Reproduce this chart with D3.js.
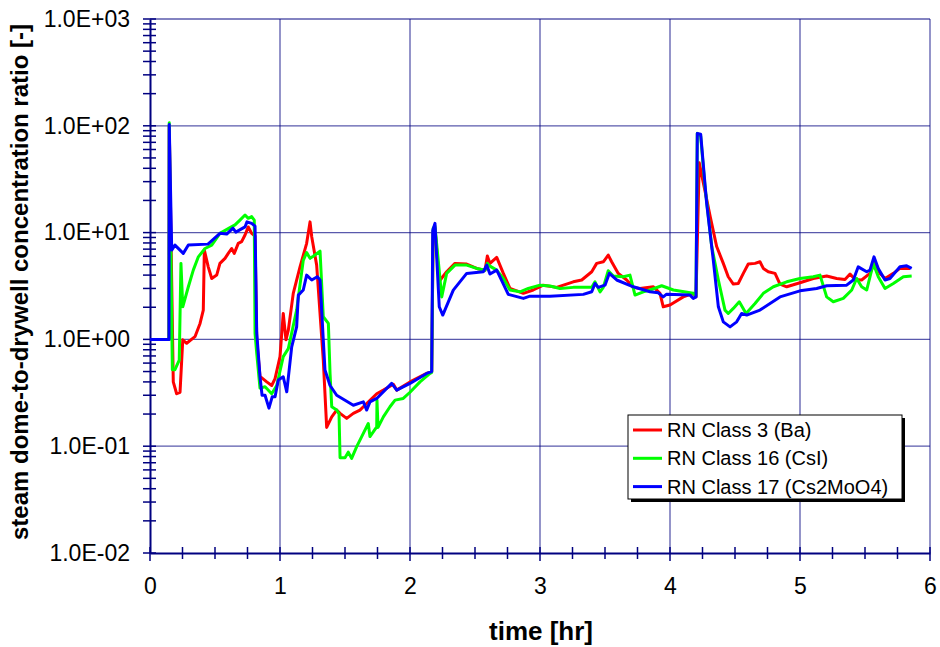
<!DOCTYPE html>
<html><head><meta charset="utf-8">
<script src="https://cdn.jsdelivr.net/npm/d3@7"></script>
<style>body{margin:0;background:#fff;} svg{display:block;font-family:"Liberation Sans",Arial,sans-serif;}</style>
</head><body>
<svg id="chart" width="940" height="647"></svg>
<script>
const seriesNames = ["RN Class 3 (Ba)", "RN Class 16 (CsI)", "RN Class 17 (Cs2MoO4)"];
const seriesColors = ["#ff0000", "#00ff00", "#0000ff"];
const xTicks = [0, 1, 2, 3, 4, 5, 6];
const yTicks = [1e-2, 1e-1, 1e0, 1e1, 1e2, 1e3];
const yTickLabels = ["1.0E-02", "1.0E-01", "1.0E+00", "1.0E+01", "1.0E+02", "1.0E+03"];
const xTitle = "time [hr]";
const yTitle = "steam dome-to-drywell concentration ratio [-]";

// [time hr, ratio]
const class3 = [[0,1],[0.146,1],[0.148,100],[0.179,0.40],[0.205,0.31],[0.231,0.32],[0.252,0.99],[0.282,0.92],[0.346,1.06],[0.385,1.41],[0.41,1.88],[0.418,6.86],[0.448,4.78],[0.475,3.72],[0.513,4.0],[0.538,5.15],[0.577,5.74],[0.602,6.39],[0.628,7.1],[0.648,6.39],[0.679,7.93],[0.705,8.22],[0.731,9.5],[0.756,11.3],[0.782,9.84],[0.808,9.3],[0.821,0.99],[0.846,0.45],[0.898,0.40],[0.936,0.37],[0.962,0.43],[1.0,0.69],[1.025,1.75],[1.046,0.99],[1.064,1.22],[1.102,2.7],[1.154,4.78],[1.205,7.93],[1.231,12.6],[1.244,9.15],[1.282,4.96],[1.333,0.64],[1.359,0.15],[1.398,0.188],[1.436,0.218],[1.462,0.203],[1.513,0.182],[1.564,0.203],[1.615,0.218],[1.641,0.234],[1.744,0.31],[1.795,0.335],[1.872,0.38],[1.898,0.335],[2.0,0.40],[2.128,0.48],[2.167,0.50],[2.178,10],[2.192,11],[2.225,3.5],[2.282,4.3],[2.346,5.15],[2.436,5.08],[2.513,4.62],[2.577,4.45],[2.595,6.03],[2.615,5.15],[2.667,5.86],[2.718,4.15],[2.769,3.0],[2.872,2.7],[2.948,2.9],[3.025,3.22],[3.128,3.07],[3.256,3.46],[3.321,3.6],[3.398,4.3],[3.436,5.15],[3.487,5.33],[3.525,6.16],[3.551,5.33],[3.602,4.15],[3.667,3.6],[3.718,3.07],[3.769,3.0],[3.872,3.11],[3.923,2.7],[3.948,2.02],[4.0,2.1],[4.102,2.5],[4.179,2.7],[4.2,2.5],[4.225,45],[4.31,14],[4.359,7.4],[4.41,5.15],[4.448,3.86],[4.487,3.3],[4.525,3.34],[4.564,4.15],[4.602,5.08],[4.654,5.15],[4.692,5.33],[4.718,4.62],[4.756,4.3],[4.808,4.15],[4.846,3.3],[4.898,3.11],[5.0,3.39],[5.102,3.72],[5.205,3.92],[5.282,3.72],[5.346,3.64],[5.385,4.09],[5.423,3.64],[5.474,3.6],[5.538,4.15],[5.577,5.33],[5.615,4.15],[5.654,3.72],[5.718,4.15],[5.769,4.62],[5.846,4.62]];

const class16 = [[0,1],[0.146,1],[0.148,107],[0.172,0.52],[0.192,0.52],[0.225,0.64],[0.238,5.15],[0.252,2.02],[0.295,3.11],[0.333,4.45],[0.372,5.93],[0.423,7.1],[0.475,7.64],[0.538,9.84],[0.602,10.9],[0.654,11.8],[0.692,13.1],[0.731,14.6],[0.756,13.6],[0.782,14.1],[0.802,13.1],[0.808,1.14],[0.821,0.74],[0.846,0.35],[0.885,0.36],[0.936,0.31],[0.975,0.37],[1.025,0.69],[1.064,0.82],[1.128,1.88],[1.179,5.5],[1.205,6.5],[1.231,5.74],[1.256,6.0],[1.308,6.7],[1.333,1.63],[1.372,1.41],[1.385,0.48],[1.398,0.234],[1.436,0.218],[1.454,0.2],[1.462,0.078],[1.5,0.078],[1.525,0.088],[1.551,0.077],[1.59,0.099],[1.641,0.132],[1.679,0.163],[1.692,0.123],[1.744,0.152],[1.746,0.27],[1.754,0.15],[1.795,0.188],[1.846,0.234],[1.885,0.27],[1.948,0.28],[2.0,0.32],[2.077,0.40],[2.154,0.48],[2.167,0.49],[2.178,11],[2.192,11.5],[2.244,2.5],[2.282,4.15],[2.346,4.96],[2.436,4.96],[2.513,4.62],[2.577,4.45],[2.595,5.15],[2.615,4.85],[2.667,4.45],[2.718,3.72],[2.769,2.9],[2.846,2.79],[2.91,3.0],[3.0,3.22],[3.077,3.16],[3.154,3.0],[3.256,3.07],[3.398,3.07],[3.423,3.46],[3.462,2.79],[3.487,3.07],[3.525,4.4],[3.564,3.92],[3.641,3.86],[3.692,4.0],[3.731,2.6],[3.795,2.79],[3.846,2.9],[3.936,3.18],[4.026,2.9],[4.179,2.7],[4.2,2.55],[4.21,85],[4.236,80],[4.269,27],[4.321,7.4],[4.372,3.6],[4.423,1.88],[4.448,1.75],[4.487,1.95],[4.533,2.25],[4.585,1.75],[4.654,2.17],[4.718,2.7],[4.795,3.11],[4.898,3.46],[5.0,3.72],[5.102,3.86],[5.154,4.0],[5.205,2.5],[5.256,2.25],[5.333,2.42],[5.398,2.9],[5.436,3.72],[5.474,3.11],[5.513,2.9],[5.564,5.15],[5.602,3.86],[5.654,3.0],[5.718,3.34],[5.795,3.86],[5.859,3.92]];

const class17 = [[0,1],[0.146,1],[0.148,103],[0.167,6.86],[0.192,7.64],[0.256,6.39],[0.295,7.64],[0.446,7.8],[0.538,9.84],[0.59,9.68],[0.638,11.0],[0.66,10.1],[0.731,11.3],[0.746,12.6],[0.782,12.2],[0.808,11.5],[0.821,1.15],[0.846,0.45],[0.862,0.30],[0.885,0.30],[0.915,0.227],[0.94,0.29],[0.962,0.29],[0.987,0.416],[1.025,0.446],[1.052,0.323],[1.09,0.85],[1.128,1.31],[1.141,2.6],[1.179,2.9],[1.205,4.0],[1.244,3.6],[1.287,3.86],[1.308,3.6],[1.333,0.985],[1.346,0.516],[1.385,0.37],[1.436,0.30],[1.564,0.242],[1.641,0.26],[1.667,0.218],[1.692,0.26],[1.744,0.28],[1.859,0.387],[1.898,0.335],[2.0,0.387],[2.128,0.48],[2.167,0.50],[2.175,10.5],[2.192,12.2],[2.225,2.02],[2.252,1.69],[2.333,2.89],[2.436,4.15],[2.564,4.3],[2.59,4.96],[2.615,4.09],[2.667,4.45],[2.756,2.64],[2.872,2.42],[2.923,2.54],[3.077,2.54],[3.333,2.64],[3.398,2.79],[3.423,3.34],[3.448,3.07],[3.5,3.22],[3.533,4.15],[3.59,3.6],[3.718,3.11],[3.846,2.79],[3.91,2.73],[3.948,2.5],[3.974,2.65],[4.154,2.6],[4.179,2.42],[4.2,2.5],[4.21,84.9],[4.236,83.6],[4.282,18.8],[4.333,5.53],[4.372,2.02],[4.41,1.46],[4.462,1.31],[4.513,1.46],[4.551,1.75],[4.59,1.69],[4.692,1.88],[4.846,2.5],[5.0,2.85],[5.128,3.0],[5.205,3.18],[5.359,3.22],[5.41,3.6],[5.448,4.78],[5.513,4.3],[5.538,4.45],[5.569,5.93],[5.602,4.62],[5.654,3.6],[5.692,3.72],[5.769,4.78],[5.82,4.89],[5.859,4.62]];

const allSeries = [class3, class16, class17];

const svg = d3.select("#chart");
const m = {left:150, right:10, top:19, bottom:94};
const W = 940, H = 647;
const x = d3.scaleLinear().domain([0,6]).range([m.left, W - m.right]);
const y = d3.scaleLog().domain([1e-2,1e3]).range([H - m.bottom, m.top]);
const navy = "#000080";
const FONT = "Liberation Sans, Arial, sans-serif";

// gridlines
const g = svg.append("g");
g.selectAll("line.gx").data(xTicks.slice(1)).join("line")
  .attr("x1", d=>x(d)).attr("x2", d=>x(d)).attr("y1", y(1e-2)).attr("y2", y(1e3))
  .attr("stroke", navy).attr("stroke-opacity", 0.65).attr("stroke-width", 1.3);
g.selectAll("line.gy").data(yTicks.slice(1)).join("line")
  .attr("x1", x(0)).attr("x2", x(6)).attr("y1", d=>y(d)).attr("y2", d=>y(d))
  .attr("stroke", navy).attr("stroke-opacity", 0.65).attr("stroke-width", 1.3);

// minor ticks
const yMinor = [];
for (let e=-2; e<3; e++) for (let k=2;k<=9;k++) yMinor.push(k*Math.pow(10,e));
const xMinor = d3.range(0, 6.001, 0.25);

// axes
const yAxis = d3.axisLeft(y).tickValues(yTicks).tickFormat((d,i)=>yTickLabels[i]).tickSize(0).tickPadding(20);
const yg = svg.append("g").attr("transform", `translate(${x(0)},0)`).call(yAxis);
yg.select(".domain").attr("stroke", navy).attr("stroke-width", 2);
yg.selectAll("text").attr("font-size", 23).attr("fill", "#000").attr("font-family", FONT);
svg.append("g").selectAll("line").data(yTicks.concat(yMinor)).join("line")
  .attr("x1", x(0)-7).attr("x2", x(0)+6).attr("y1", d=>y(d)).attr("y2", d=>y(d))
  .attr("stroke", navy).attr("stroke-width", 1.5);

const xAxis = d3.axisBottom(x).tickValues(xTicks).tickFormat(d3.format("d")).tickSize(0).tickPadding(25);
const xg = svg.append("g").attr("transform", `translate(0,${y(1e-2)})`).call(xAxis);
xg.select(".domain").attr("stroke", navy).attr("stroke-width", 2);
xg.selectAll("text").attr("font-size", 23).attr("fill", "#000").attr("font-family", FONT);
svg.append("g").selectAll("line").data(xMinor).join("line")
  .attr("x1", d=>x(d)).attr("x2", d=>x(d)).attr("y1", y(1e-2)-6)
  .attr("y2", (d)=> y(1e-2) + (Math.abs(d-Math.round(d))<1e-6 ? 8 : 6))
  .attr("stroke", navy).attr("stroke-width", 1.5);

// titles
svg.append("text").attr("x", 541).attr("y", 640).attr("text-anchor","middle")
  .attr("font-size", 26).attr("font-weight","bold").text(xTitle);
svg.append("text").attr("transform", "translate(28,282) rotate(-90)").attr("text-anchor","middle")
  .attr("font-size", 24).attr("font-weight","bold").text(yTitle);

// lines
const line = d3.line().x(d=>x(d[0])).y(d=>y(d[1]));
const lg = svg.append("g");
allSeries.forEach((s,i)=>{
  lg.append("path").datum(s).attr("d", line).attr("fill","none")
    .attr("stroke", seriesColors[i]).attr("stroke-width", 3).attr("stroke-linejoin","round");
});

// legend
const leg = svg.append("g").attr("transform","translate(628,415)");
leg.append("rect").attr("x",3).attr("y",3).attr("width",274).attr("height",84).attr("fill","#000");
leg.append("rect").attr("x",0).attr("y",0).attr("width",274).attr("height",84).attr("fill","#fff").attr("stroke","#000").attr("stroke-width",1);
seriesNames.forEach((n,i)=>{
  const yy = 15 + i*28.3;
  leg.append("line").attr("x1",5).attr("x2",34).attr("y1",yy).attr("y2",yy).attr("stroke",seriesColors[i]).attr("stroke-width",3);
  leg.append("text").attr("x",39).attr("y",yy+7).attr("font-size",20).attr("fill","#000").text(n);
});
</script>
</body></html>
